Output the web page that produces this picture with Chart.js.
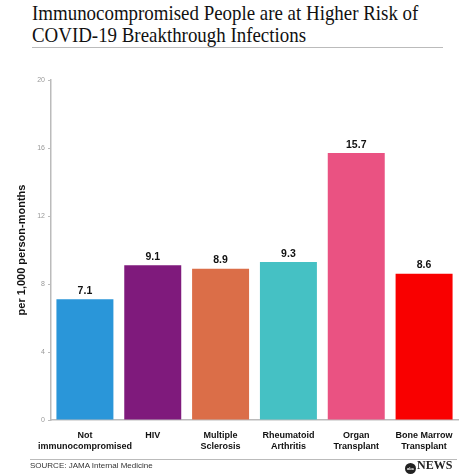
<!DOCTYPE html>
<html>
<head>
<meta charset="utf-8">
<script src="https://cdn.jsdelivr.net/npm/chart.js@4.4.1/dist/chart.umd.min.js"></script>
<style>
  html, body { margin: 0; padding: 0; background: #fff; }
  #wrap { position: relative; width: 474px; height: 474px; overflow: hidden; }
  #titulo {
    position: absolute; left: 32px; top: 2px; width: 480px;
    font-family: "Liberation Serif", "DejaVu Serif", serif; font-size: 21px;
    line-height: 22px; color: #111; transform: scaleX(0.9); transform-origin: left top;
  }
  .linea { position: absolute; left: 32px; width: 411px; height: 1px; background: #bbb; }
  #fuente {
    position: absolute; left: 30px; top: 461px;
    font-family: "Liberation Sans", Arial, sans-serif; font-size: 8px; color: #333;
  }
  #logo {
    position: absolute; left: 405px; top: 458px;
    font-family: "Liberation Serif", serif; font-size: 12px; color: #222; font-weight: bold;
  }
  #logo span {
    display: inline-block; width: 11px; height: 11px; border-radius: 50%;
    background: #222; color: #fff; font-size: 4px; line-height: 11px; text-align: center;
    vertical-align: -1px; margin-right: 1px; font-family: "Liberation Sans", sans-serif;
  }
  canvas { position: absolute; left: 0; top: 0; }
</style>
</head>
<body>
<div id="wrap">
  <div id="titulo">Immunocompromised People are at Higher Risk of<br>COVID-19 Breakthrough Infections</div>
  <div class="linea" style="top:47px"></div>
  <canvas id="grafica" width="474" height="474"></canvas>
  <div class="linea" style="top:459px; left:30px; width:427px"></div>
  <div id="fuente">SOURCE: JAMA Internal Medicine</div>
  <div id="logo"><span>abc</span>NEWS</div>
</div>
<script>
// --- DATOS ---
const categorias = [
  ['Not', 'immunocompromised'],
  'HIV',
  ['Multiple', 'Sclerosis'],
  ['Rheumatoid', 'Arthritis'],
  ['Organ', 'Transplant'],
  ['Bone Marrow', 'Transplant']
];
const tasas = [7.1, 9.1, 8.9, 9.3, 15.7, 8.6];
const colores = ['#2a96d9', '#7f1a7c', '#db6e48', '#45c1c4', '#ea5282', '#f90000'];
const ticksY = [0, 4, 8, 12, 16, 20];

// Etiquetas de valor encima de cada barra
const etiquetasValor = {
  id: 'etiquetasValor',
  afterDatasetsDraw(chart) {
    const ctx = chart.ctx;
    const meta = chart.getDatasetMeta(0);
    ctx.save();
    ctx.font = 'bold 10.5px "Liberation Sans", Arial, sans-serif';
    ctx.fillStyle = '#111';
    ctx.textAlign = 'center';
    ctx.textBaseline = 'bottom';
    meta.data.forEach((barra, i) => {
      ctx.fillText(tasas[i].toFixed(1), barra.x, barra.y - 3);
    });
    ctx.restore();
  }
};

const ctx = document.getElementById('grafica').getContext('2d');
new Chart(ctx, {
  type: 'bar',
  data: {
    labels: categorias,
    datasets: [{
      data: tasas,
      backgroundColor: colores,
      borderWidth: 0,
      barPercentage: 0.84,
      categoryPercentage: 1.0
    }]
  },
  options: {
    responsive: false,
    animation: false,
    layout: { padding: { left: 0, right: 16, top: 80, bottom: 20 } },
    plugins: { legend: { display: false }, tooltip: { enabled: false } },
    scales: {
      y: {
        min: 0, max: 20,
        afterBuildTicks: (s) => { s.ticks = ticksY.map(v => ({ value: v })); },
        afterFit: (s) => { s.width = 51; },
        grid: { drawOnChartArea: false, drawTicks: true, tickLength: 3, color: '#bbb' },
        border: { color: '#bbb', width: 1.5 },
        ticks: { color: '#999', font: { size: 7, family: 'Liberation Sans' }, padding: 3 },
        title: {
          display: true, text: 'per 1,000 person-months', color: '#111',
          font: { size: 11, weight: 'bold', family: 'Liberation Sans' }, padding: { top: 15, bottom: 0 }
        }
      },
      x: {
        afterFit: (s) => { s.height = 34; },
        grid: { display: false },
        border: { color: '#bbb', width: 1.5 },
        ticks: {
          color: '#111', font: { size: 9, weight: 'bold', family: 'Liberation Sans' },
          padding: 2, maxRotation: 0, autoSkip: false
        }
      }
    }
  },
  plugins: [etiquetasValor]
});
</script>
</body>
</html>
